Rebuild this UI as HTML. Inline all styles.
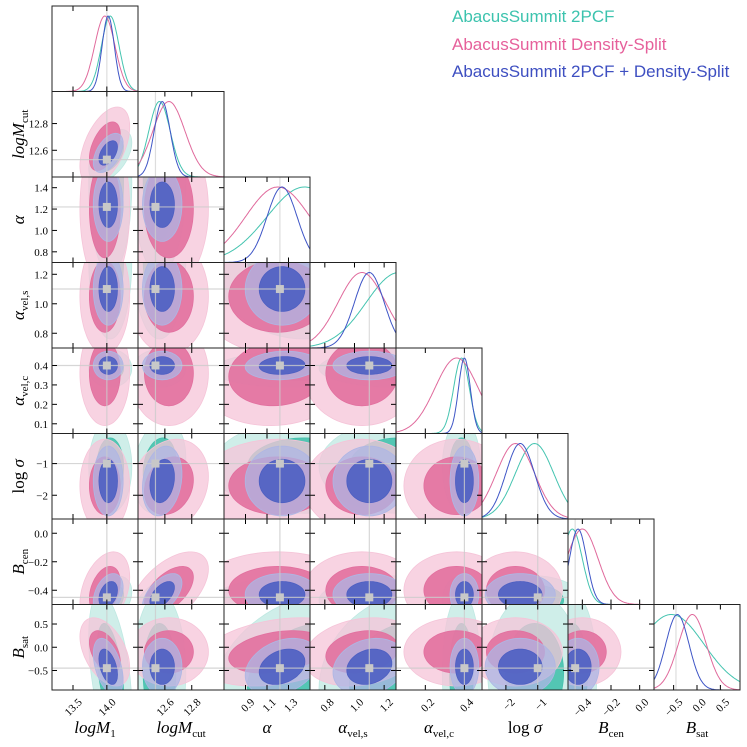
<!DOCTYPE html>
<html><head><meta charset="utf-8"><style>
html,body{margin:0;padding:0;background:#fff;}
svg{display:block;font-family:"Liberation Serif",serif;}
</style></head><body>
<svg id="chart" width="747" height="747" viewBox="0 0 747 747" xmlns="http://www.w3.org/2000/svg">
<g id="legend" font-family="Liberation Sans, sans-serif" font-size="17">
<text x="452" y="22" fill="#3cc3ae">AbacusSummit 2PCF</text>
<text x="452" y="50" fill="#e6609b">AbacusSummit Density-Split</text>
<text x="452" y="77" fill="#3e4fc1">AbacusSummit 2PCF + Density-Split</text>
</g>
</svg>
<script>
const params=['logM1','logMcut','alpha','avs','avc','logsigma','Bcen','Bsat'];
const lo=[13.19,12.40,0.70,0.70,0.05,-2.75,-0.5,-0.92];
const hi=[14.46,13.04,1.50,1.28,0.49,-0.05,0.1,0.92];
const truth=[14.0,12.53,1.22,1.10,0.40,-1.0,-0.45,-0.45];
const xticks=[[13.5,14.0],[12.6,12.8],[0.9,1.1,1.3],[0.8,1.0,1.2],[0.2,0.4],[-2,-1],[-0.4,-0.2,0.0],[-0.5,0.0,0.5]];
const xtickLabels=[['13.5','14.0'],['12.6','12.8'],['0.9','1.1','1.3'],['0.8','1.0','1.2'],['0.2','0.4'],['−2','−1'],['−0.4','−0.2','0.0'],['−0.5','0.0','0.5']];
const yticks=[[],[12.6,12.8],[0.8,1.0,1.2,1.4],[0.8,1.0,1.2],[0.1,0.2,0.3,0.4],[-2,-1],[-0.4,-0.2,0.0],[-0.5,0.0,0.5]];
const ytickLabels=[[],['12.6','12.8'],['0.8','1.0','1.2','1.4'],['0.8','1.0','1.2'],['0.1','0.2','0.3','0.4'],['−2','−1'],['−0.4','−0.2','0.0'],['−0.5','0.0','0.5']];
const mean2pcf=[14.05,12.56,1.45,1.30,0.385,-1.1,-0.47,-0.55];
const sig2pcf=[0.13,0.08,0.35,0.22,0.04,0.6,0.07,0.7];
const meanDS=[13.97,12.63,1.20,1.05,0.36,-1.7,-0.40,-0.10];
const sigDS=[0.15,0.12,0.30,0.16,0.11,0.6,0.11,0.30];
const meanComb=[14.02,12.58,1.24,1.10,0.40,-1.55,-0.43,-0.42];
const sigComb=[0.09,0.06,0.14,0.10,0.03,0.45,0.06,0.25];
const corrPairs=[[1,0,0.5],[6,1,0.55],[6,0,0.35],[7,0,-0.45],[7,2,0.3],[5,1,0.2],[7,3,0.2],[4,2,0.1]];

const NS='http://www.w3.org/2000/svg';
const svg=document.getElementById('chart');
const X0=52,W=86,Y0=6,H=85.5,N=8;
function px(j,v){return X0+j*W+(v-lo[j])/(hi[j]-lo[j])*W;}
function py(i,v){return Y0+(i+1)*H-(v-lo[i])/(hi[i]-lo[i])*H;}
function mk(tag,attrs,parent){const e=document.createElementNS(NS,tag);for(const k in attrs)e.setAttribute(k,attrs[k]);(parent||svg).appendChild(e);return e;}
function corr(i,j){for(const c of corrPairs){if((c[0]===i&&c[1]===j)||(c[0]===j&&c[1]===i))return c[2];}return 0;}
const series=[
 {name:'2pcf',m:mean2pcf,s:sig2pcf,light:'#bfe8e2',dark:'#45c1ad',line:'#45c4b0'},
 {name:'density-split',m:meanDS,s:sigDS,light:'#f5c4d8',dark:'#e2709f',line:'#e06a9c'},
 {name:'combined',m:meanComb,s:sigComb,light:'#aeb6e4',dark:'#4d5fc2',line:'#3e55c6'}];
const defs=mk('defs',{});
for(let i=0;i<N;i++){for(let j=0;j<=i;j++){
 const cp=mk('clipPath',{id:'c'+i+'_'+j},defs);
 mk('rect',{x:X0+j*W,y:Y0+i*H,width:W,height:H},cp);
 const g=mk('g',{'clip-path':'url(#c'+i+'_'+j+')'});
 
 
 if(i===j){
  const l=mk('line',{x1:px(j,truth[j]),x2:px(j,truth[j]),y1:Y0+i*H,y2:Y0+(i+1)*H,stroke:'#ddd','stroke-width':1.2},g);
  
  
  for(const s of series){
   let d='';
   for(let k=0;k<=100;k++){const v=lo[j]+(hi[j]-lo[j])*k/100;const z=(v-s.m[j])/s.s[j];const y=Y0+(i+1)*H-Math.exp(-0.5*z*z)*(H-10);d+=(k?'L':'M')+px(j,v).toFixed(1)+' '+y.toFixed(1);}
   const p=mk('path',{d:d,fill:'none',stroke:s.line,'stroke-width':1},g);
   
   
  }
 } else {
  for(const s of series){
   const r=corr(i,j);
   for(const lev of [[2.45,s.light,0.75],[1.52,s.dark,0.9]]){
    let d='';
    for(let k=0;k<=72;k++){const t=k/72*2*Math.PI;
     const vx=s.m[j]+lev[0]*s.s[j]*Math.cos(t);
     const vy=s.m[i]+lev[0]*s.s[i]*(r*Math.cos(t)+Math.sqrt(1-r*r)*Math.sin(t));
     d+=(k?'L':'M')+px(j,vx).toFixed(1)+' '+py(i,vy).toFixed(1);}
    const p=mk('path',{d:d+'Z',fill:lev[1],'fill-opacity':lev[2],stroke:lev[1],'stroke-width':0.8},g);
    
    
   }
  }
  mk('line',{x1:px(j,truth[j]),x2:px(j,truth[j]),y1:Y0+i*H,y2:Y0+(i+1)*H,stroke:'#ccc','stroke-width':1.2,'stroke-opacity':0.8},g);
  mk('line',{x1:X0+j*W,x2:X0+(j+1)*W,y1:py(i,truth[i]),y2:py(i,truth[i]),stroke:'#ccc','stroke-width':1.2,'stroke-opacity':0.8},g);
  const m=mk('rect',{x:px(j,truth[j])-4,y:py(i,truth[i])-4,width:8,height:8,fill:'#c8c8c8'},g);
  
  
 }
 const tg=mk('g',{stroke:'#000','stroke-width':1});
 for(const t of xticks[j]){const x=px(j,t);mk('line',{x1:x,x2:x,y1:Y0+(i+1)*H,y2:Y0+(i+1)*H-5},tg);mk('line',{x1:x,x2:x,y1:Y0+i*H,y2:Y0+i*H+5},tg);}
 if(i!==j){for(const t of yticks[i]){const y=py(i,t);mk('line',{x1:X0+j*W,x2:X0+j*W+5,y1:y,y2:y},tg);mk('line',{x1:X0+(j+1)*W,x2:X0+(j+1)*W-5,y1:y,y2:y},tg);}}
 const fr=mk('rect',{x:X0+j*W,y:Y0+i*H,width:W,height:H,fill:'none',stroke:'#222','stroke-width':1});
 
 
}}
for(let j=0;j<N;j++){
 xticks[j].forEach((t,k)=>{const x=px(j,t),y=Y0+N*H+6;
  const tx=mk('text',{x:x+6,y:y+10,'font-size':11,'text-anchor':'end',transform:'rotate(-45 '+(x+4)+' '+(y+4)+')'});
  tx.textContent=xtickLabels[j][k];
  
  });
}
for(let i=1;i<N;i++){
 yticks[i].forEach((t,k)=>{const tx=mk('text',{x:X0-4,y:py(i,t)+4,'font-size':11,'text-anchor':'end'});
  tx.textContent=ytickLabels[i][k];
  
  });
}
const labs=[['','logM','1'],['','logM','cut'],['','α',''],['','α','vel,s'],['','α','vel,c'],['log ','σ',''],['','B','cen'],['','B','sat']];
function lab(el,l){
 if(l[0]){const u=document.createElementNS(NS,'tspan');u.textContent=l[0];el.appendChild(u);}
 const a=document.createElementNS(NS,'tspan');a.setAttribute('font-style','italic');a.textContent=l[1];el.appendChild(a);
 if(l[2]){const b=document.createElementNS(NS,'tspan');b.setAttribute('font-size','11');b.setAttribute('dy','4');b.textContent=l[2];el.appendChild(b);}}
for(let j=0;j<N;j++){const t=mk('text',{x:X0+j*W+W/2,y:733,'font-size':17,'text-anchor':'middle'});lab(t,labs[j]);
 
 }
for(let i=1;i<N;i++){const cy=Y0+i*H+H/2;const t=mk('text',{x:24,y:cy,'font-size':17,'text-anchor':'middle',transform:'rotate(-90 24 '+cy+')'});lab(t,labs[i]);
 
 }
svg.appendChild(document.getElementById('legend'));
</script>
</body></html>
